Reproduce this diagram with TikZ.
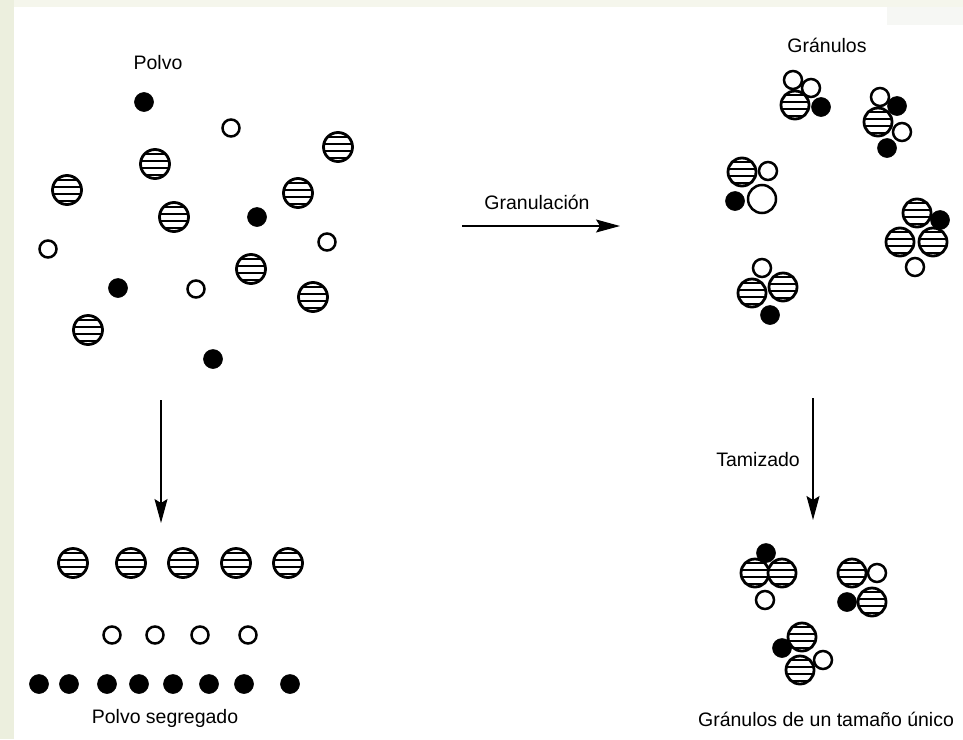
\documentclass[tikz,border=0pt]{standalone}
\usepackage{fontspec}
\setmainfont{Liberation Sans}
\usetikzlibrary{arrows.meta}
\definecolor{stripL}{RGB}{236,239,222}
\definecolor{stripT}{RGB}{245,246,236}
\definecolor{boxTR}{RGB}{246,247,244}
\tikzset{
  ball/.style={circle, inner sep=0pt, outer sep=0pt},
  blk/.style={ball, fill=black, draw=black, line width=0.6pt, minimum size=19pt},
  opn/.style={ball, fill=white, draw=black, line width=2.5pt, minimum size=17pt},
  opng/.style={opn, minimum size=18pt},
  opnbig/.style={opn, minimum size=28pt},
  str/.style={ball, fill=white, draw=black, line width=2.8pt, minimum size=29pt,
    path picture={\foreach \dy in {-11,-4,3,10}{
      \draw[line width=2.5pt] ([yshift=\dy pt]path picture bounding box.west) -- ([yshift=\dy pt]path picture bounding box.east);}}},
  strs/.style={str, minimum size=28pt},
  lbl/.style={font=\fontsize{19.5}{23}\selectfont, inner sep=0pt},
  arr/.style={line width=1.3pt, -{Stealth[length=24pt,width=13pt,inset=4pt]}}
}
\begin{document}
\begin{tikzpicture}[x=1pt,y=-1pt]
\useasboundingbox (0,0) rectangle (963,739);
% background
\fill[stripT] (0,0) rectangle (963,7);
\fill[stripL] (0,0) rectangle (14,739);
\fill[white] (14,7) rectangle (963,739);
\fill[boxTR] (887,7) rectangle (963,25);

% labels
\node[lbl] (tpolvo) at (158,63) {Polvo};
\node[lbl] (tgran) at (827,45) {Gránulos};
\node[lbl] (tgrl) at (537,202) {Granulación};
\node[lbl, anchor=east] (ttam) at (800,460) {Tamizado};
\node[lbl] (tseg) at (165,718) {Polvo segregado};
\node[lbl] (tuni) at (826,719) {Gránulos de un tamaño único};

% powder (scattered)
\node[blk] (p1) at (144,102) {};
\node[opn] (p2) at (231,128) {};
\node[str] (p3) at (338,147) {};
\node[str] (p4) at (155,164) {};
\node[str] (p5) at (67,190) {};
\node[str] (p6) at (298,193) {};
\node[str] (p7) at (174,217) {};
\node[blk] (p8) at (257,217) {};
\node[opn] (p9) at (327,242) {};
\node[opn] (p10) at (48,249) {};
\node[str] (p11) at (251,269) {};
\node[blk] (p12) at (118,288) {};
\node[opn] (p13) at (196,289) {};
\node[str] (p14) at (313,297) {};
\node[str] (p15) at (88,330) {};
\node[blk] (p16) at (213,359) {};

% segregated powder
\foreach \x [count=\i] in {73,131,183,236,288} \node[str] (s\i) at (\x,563) {};
\foreach \x [count=\i] in {112,155,200,248} \node[opn] (o\i) at (\x,635) {};
\foreach \x [count=\i] in {39,69,107,139,173,209,244,290} \node[blk] (b\i) at (\x,684) {};

% granules (top right)
\node[opng] (g1a) at (793,80) {};
\node[opng] (g1b) at (811,88) {};
\node[blk] (g1c) at (821,107) {};
\node[strs] (g1d) at (795,105) {};

\node[opng] (g2a) at (880,97) {};
\node[blk] (g2b) at (897,106) {};
\node[opng] (g2c) at (902,132) {};
\node[blk] (g2d) at (887,148) {};
\node[strs] (g2e) at (878,122) {};

\node[opng] (g3a) at (768,171) {};
\node[strs] (g3b) at (742,172) {};
\node[blk] (g3c) at (735,201) {};
\node[opnbig] (g3d) at (762,199) {};

\node[blk] (g4a) at (940,220) {};
\node[opng] (g4b) at (915,267) {};
\node[strs] (g4c) at (917,213) {};
\node[strs] (g4d) at (900,242) {};
\node[strs] (g4e) at (933,242) {};

\node[opng] (g5a) at (762,268) {};
\node[blk] (g5b) at (770,315) {};
\node[strs] (g5c) at (752,293) {};
\node[strs] (g5d) at (783,287) {};

% granules of one size (bottom right)
\node[blk] (hA1) at (766,553) {};
\node[opng] (hA2) at (765,600) {};
\node[strs] (hA3) at (755,573) {};
\node[strs] (hA4) at (782,573) {};

\node[opng] (hB1) at (877,573) {};
\node[blk] (hB2) at (847,602) {};
\node[strs] (hB3) at (852,573) {};
\node[strs] (hB4) at (872,602) {};

\node[blk] (hC1) at (782,648) {};
\node[opng] (hC2) at (823,660) {};
\node[strs] (hC3) at (802,637) {};
\node[strs] (hC4) at (800,670) {};

% arrows
\coordinate (a1s) at (161,400);
\coordinate (a1e) at (161,523);
\coordinate (a2s) at (462,226);
\coordinate (a2e) at (620,226);
\coordinate (a3s) at (813,398);
\coordinate (a3e) at (813,520);
\draw[arr] (a1s) -- (a1e);
\draw[arr] (a2s) -- (a2e);
\draw[arr] (a3s) -- (a3e);
\end{tikzpicture}
\end{document}
